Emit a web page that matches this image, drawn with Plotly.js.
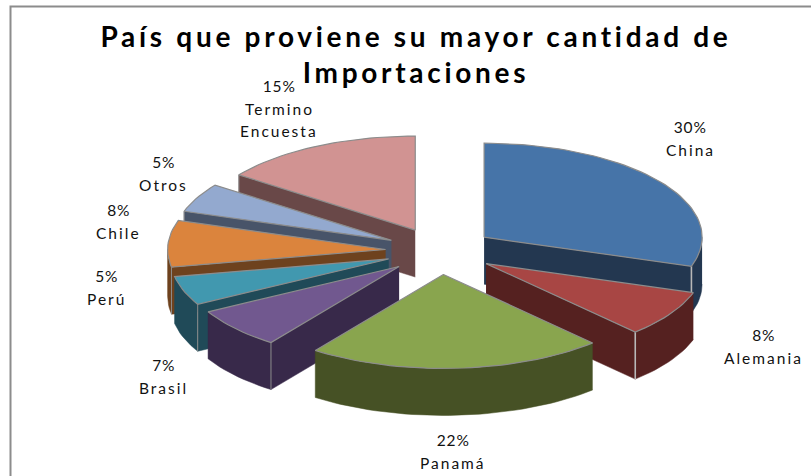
<!DOCTYPE html>
<html><head><meta charset="utf-8">
<script src="https://cdn.plot.ly/plotly-3.0.1.min.js"></script>
<style>
html,body{margin:0;padding:0;background:#fff}
.gtitle{letter-spacing:3.7px}
</style></head><body>
<div id="chart" style="width:811px;height:476px"></div>
<script>
const categories = ["China","Alemania","Panamá","Brasil","Perú","Chile","Otros","Termino<br>Encuesta"];
const values = [30,8,22,7,5,8,5,15];
const topColors = ["#4674A8","#A84644","#89A54E","#71588F","#4198AF","#DB843D","#93A9CF","#D19392"];
const wallColors = ["#233750","#552120","#465125","#38294A","#204A58","#6E421E","#485469","#694848"];
const drawOrder = [7,6,5,4,3,0,1,2];
const labelAnchors = [[690,127],[763,335],[453,440],[163,365],[106,276],[118,210],[163,162],[279,86]];
const titleText = "País que proviene su mayor cantidad de<br>Importaciones";

const CX=440, CY=251, RX=218, RY=94, DEPTH=47, EXPLODE=0.25, EDGE="#8C8C8C";
const total = values.reduce((a,b)=>a+b,0);
const rad = d => d*Math.PI/180;
let cum = 0;
const slices = values.map((v,i)=>{
  const a0 = cum/total*360; cum += v; const a1 = cum/total*360; const m=(a0+a1)/2;
  return {i,a0,a1,ax:CX+EXPLODE*RX*Math.sin(rad(m)),ay:CY-EXPLODE*RY*Math.cos(rad(m))};
});
const pt = (s,a,dz=0)=>[s.ax+RX*Math.sin(rad(a)), s.ay-RY*Math.cos(rad(a))+dz];
function arc(s,a,b,dz=0){
  const n=Math.max(2,Math.ceil(Math.abs(b-a)/2)); const o=[];
  for(let k=0;k<=n;k++) o.push(pt(s,a+(b-a)*k/n,dz));
  return o;
}
function poly(points,fill,line,width){
  return {type:"scatter",mode:"lines",x:points.map(p=>p[0]),y:points.map(p=>p[1]),
    fill:"toself",fillcolor:fill,line:{color:line,width:width},hoverinfo:"skip",showlegend:false};
}
function edge(points,color,width){
  return {type:"scatter",mode:"lines",x:points.map(p=>p[0]),y:points.map(p=>p[1]),
    line:{color:color,width:width},hoverinfo:"skip",showlegend:false};
}
const traces=[];
drawOrder.forEach(idx=>{
  const s=slices[idx], wall=wallColors[idx];
  const apex=[s.ax,s.ay], apexLow=[s.ax,s.ay+DEPTH];
  const radialAngle = Math.sin(rad(s.a1))>0 ? s.a1 : (Math.sin(rad(s.a0))<0 ? s.a0 : null);
  const lo=Math.max(s.a0,90), hi=Math.min(s.a1,270);
  if(hi>lo){
    const top=arc(s,lo,hi), bot=arc(s,hi,lo,DEPTH);
    traces.push(poly(top.concat(bot),wall,wall,0.5));
  }
  if(radialAngle!==null){
    const c=pt(s,radialAngle), cl=pt(s,radialAngle,DEPTH);
    traces.push(poly([apex,c,cl,apexLow],wall,wall,0.5));
    traces.push(edge([c,cl],idx<2?"#B8B8B8":EDGE,idx<2?1.6:1));
  }
  const outline=[apex].concat(arc(s,s.a0,s.a1),[apex]);
  traces.push(poly(outline,topColors[idx],EDGE,1.2));
});
const annotations=[];
categories.forEach((c,i)=>{
  const lines=[values[i]+"%"].concat(c.split("<br>"));
  lines.forEach((t,k)=>annotations.push({
    x:labelAnchors[i][0],y:labelAnchors[i][1]+k*22.5,xref:"x",yref:"y",text:t,showarrow:false,
    xanchor:"center",yanchor:"middle",font:{family:"Lato, sans-serif",size:15.5,color:"#111"}
  }));
});
const layout={
  width:811,height:476,margin:{l:0,r:0,t:0,b:0},paper_bgcolor:"#fff",plot_bgcolor:"#fff",showlegend:false,
  title:{text:"<b>"+titleText+"</b>",x:416/811,xanchor:"center",xref:"paper",y:1-47/476,yanchor:"top",yref:"container",
    font:{family:"Lato, sans-serif",size:28,color:"#000"}},
  xaxis:{range:[0,811],visible:false,fixedrange:true},
  yaxis:{range:[476,0],visible:false,fixedrange:true},
  annotations:annotations,
  shapes:[{type:"rect",xref:"x",yref:"y",x0:10.5,y0:6.5,x1:830,y1:490,line:{color:"#8C8C8C",width:2},fillcolor:"rgba(0,0,0,0)",layer:"below"}]
};
Plotly.newPlot("chart",traces,layout,{displayModeBar:false,staticPlot:true}).then(()=>{
  document.querySelectorAll(".annotation-text").forEach(e=>{
    e.style.letterSpacing = e.textContent.endsWith("%") ? "0.8px" : "2px";
  });
});
</script></body></html>
